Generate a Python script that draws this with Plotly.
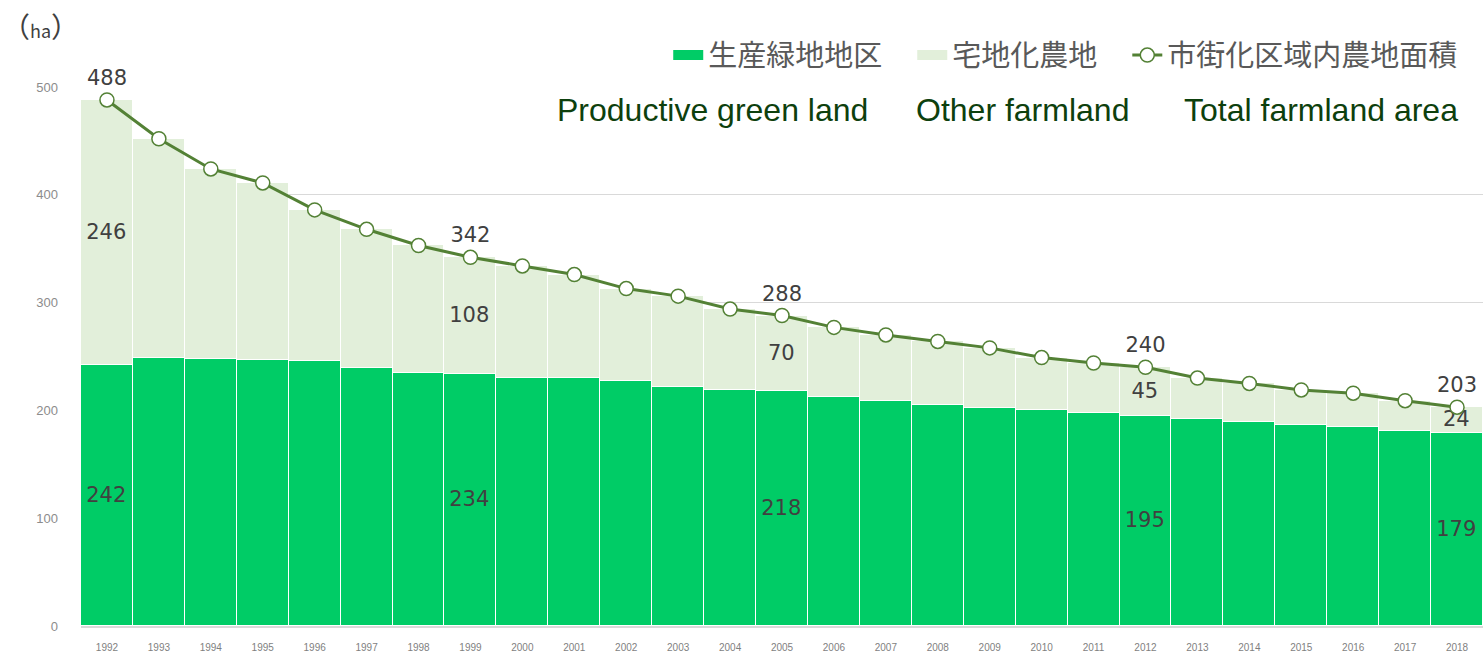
import plotly.graph_objects as go

years = [str(y) for y in range(1992, 2019)]
productive = [242, 249, 248, 247, 246, 239, 235, 234, 230, 230, 227, 222, 219, 218,
              212, 209, 205, 202, 200, 198, 195, 192, 189, 186, 185, 181, 179]
total = [488, 452, 424, 411, 386, 368, 353, 342, 334, 326, 313, 306, 294, 288,
         277, 270, 264, 258, 249, 244, 240, 230, 225, 219, 216, 209, 203]
other = [t - p for t, p in zip(total, productive)]
labeled_years = ["1992", "1999", "2005", "2012", "2018"]

legend_names = ["生産緑地地区", "宅地化農地", "市街化区域内農地面積"]
english_names = ["Productive green land", "Other farmland", "Total farmland area"]

C_PROD = "#00cc66"
C_OTHER = "#e2efda"
C_LINE = "#538135"
LABEL_FONT = dict(family="DejaVu Sans, Verdana, sans-serif", size=21, color="#404040")
GAP = "<span style='font-size:25px'>\u3000</span>"


def sel(vals):
    return [str(v) if y in labeled_years else "" for y, v in zip(years, vals)]


fig = go.Figure()

fig.add_trace(go.Bar(
    x=years, y=productive, marker=dict(color=C_PROD, line=dict(color="white", width=1.5)),
    text=sel(productive), textposition="inside", insidetextanchor="middle",
    constraintext="none", textfont=LABEL_FONT, showlegend=False, hoverinfo="x+y",
))
fig.add_trace(go.Bar(
    x=years, y=other, marker=dict(color=C_OTHER, line=dict(color="white", width=1.5)),
    text=sel(other), textposition="inside", insidetextanchor="middle",
    constraintext="none", textfont=LABEL_FONT, showlegend=False, hoverinfo="x+y",
))

# legend-only entries drawn as wide swatches
fig.add_trace(go.Scatter(
    x=[None], y=[None], mode="lines", name=legend_names[0] + GAP,
    line=dict(color=C_PROD, width=17),
))
fig.add_trace(go.Scatter(
    x=[None], y=[None], mode="lines", name=legend_names[1] + GAP,
    line=dict(color=C_OTHER, width=17),
))

fig.add_trace(go.Scatter(
    x=years, y=total, mode="lines+markers+text", name=legend_names[2],
    line=dict(color=C_LINE, width=3),
    marker=dict(symbol="circle", size=14, color="white", line=dict(color=C_LINE, width=1.5)),
    text=sel(total), textposition="top center", textfont=LABEL_FONT,
    cliponaxis=False,
))

annotations = [dict(
    text="（<span style='font-size:18px'>ha</span>）", x=-0.0575, y=1.114, xref="paper", yref="paper",
    xanchor="left", yanchor="middle", showarrow=False,
    font=dict(family="Noto Sans CJK JP, sans-serif", size=28, color="#404040"),
)]
ann_x = [0.4505, 0.6715, 0.8845]
for name, xp in zip(english_names, ann_x):
    annotations.append(dict(
        text=name, x=xp, y=0.957, xref="paper", yref="paper", xanchor="center", yanchor="middle",
        showarrow=False, font=dict(family="Liberation Sans, Arial, sans-serif", size=32, color="#0d400d"),
    ))

fig.update_layout(
    width=1483, height=653,
    margin=dict(l=81, r=0, t=87, b=27),
    paper_bgcolor="white", plot_bgcolor="white",
    barmode="stack", bargap=0,
    font=dict(family="Noto Sans CJK JP, sans-serif", color="#595959"),
    legend=dict(
        orientation="h", x=0.9859, xanchor="right", y=1.059, yanchor="middle",
        font=dict(family="Noto Sans CJK JP, sans-serif", size=29, color="#595959"),
        itemwidth=30, traceorder="normal", bgcolor="rgba(0,0,0,0)",
    ),
    annotations=annotations,
    showlegend=True,
)
fig.update_xaxes(
    type="category", range=[-0.5, 26.5], showgrid=False,
    showline=True, linecolor="#d9d9d9", linewidth=2,
    ticks="", tickfont=dict(family="Liberation Sans Narrow, Liberation Sans, Arial", size=10, color="#7f7f7f"),
    ticklabelstandoff=11, automargin=False,
)
fig.update_yaxes(
    range=[0, 500], tickvals=[0, 100, 200, 300, 400, 500],
    showgrid=True, gridcolor="#d9d9d9", gridwidth=1, zeroline=False, showline=False,
    tickfont=dict(family="Liberation Sans, Arial", size=13, color="#8c8c8c"),
    ticklabelstandoff=22, automargin=False,
)

fig.write_html(
    "out.html",
    config={"displayModeBar": False},
    post_script="document.body.style.margin='0px';document.body.style.overflow='hidden';",
)
